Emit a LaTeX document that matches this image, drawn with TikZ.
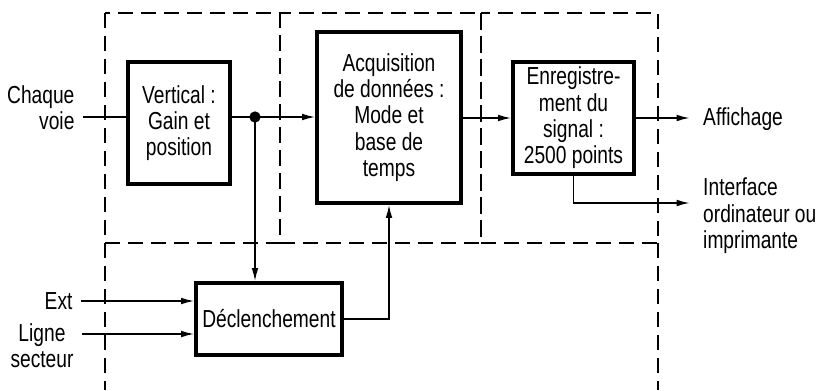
\documentclass[tikz,border=0pt]{standalone}
\usepackage{fontspec}
\setmainfont{Liberation Sans}[FakeStretch=0.78]
\usetikzlibrary{arrows.meta}
\tikzset{
  osc frame/.style={draw=black, line width=1.4pt, dash pattern=on 0.45cm off 0.24cm},
  osc box/.style={draw=black, line width=2.6pt, align=center, inner sep=0pt},
  osc line/.style={draw=black, line width=1.5pt},
  osc arrow/.style={osc line, -{Latex[length=0.4cm,width=0.2cm]}},
  osc label/.style={font=\fontsize{21}{22.5}\selectfont, text=black},
  osc in/.style={osc label, inner xsep=0.25cm, inner ysep=0pt},
  osc out/.style={osc label, inner xsep=0.39cm, inner ysep=0pt},
}

\begin{document}
\begin{tikzpicture}[x=0.03cm,y=-0.03cm]
  \useasboundingbox (0,0) rectangle (817,390);
  \draw[osc frame] (105,13) rectangle (280,243);
  \draw[osc frame] (280,13) rectangle (481,243);
  \draw[osc frame] (481,13) rectangle (658,243);
  \draw[osc frame] (105,243) -- (105,390);
  \draw[osc frame] (658,243) -- (658,390);

  \node[osc box, osc label, minimum width=3.06cm, minimum height=3.66cm] (vert) at (179,123) {Vertical :\\Gain et\\position};
  \node[osc box, osc label, minimum width=4.32cm, minimum height=5.13cm] (acq) at (389,117.5) {Acquisition\\de données :\\Mode et\\base de\\temps};
  \node[osc box, osc label, minimum width=3.63cm, minimum height=3.36cm] (enr) at (573.5,118) {Enregistre-\\ment du\\signal :\\2500 points};
  \node[osc box, osc label, minimum width=4.38cm, minimum height=2.16cm] (decl) at (269,319) {Déclenchement};

  \node[osc in, align=right, anchor=east] (chaque) at (83,108) {Chaque\\voie};
  \node[osc in, anchor=east] (ext) at (81,301) {Ext};
  \node[osc in, align=center, anchor=east] (ligne) at (82,346) {Ligne\\secteur};
  \node[osc out, anchor=west] (affich) at (690,119) {Affichage};
  \node[osc out, align=left, anchor=west] (iface) at (690,216) {Interface\\ordinateur ou\\imprimante};

  \coordinate (split) at (255,117);
  \draw[osc line] (chaque.east |- split) -- (vert.west |- split);
  \draw[osc line] (vert.east |- split) -- (split);
  \fill (split) circle (0.17cm);
  \draw[osc arrow] (split) -- (acq.west |- split);
  \draw[osc arrow] (split) -- (split |- decl.north);
  \draw[osc arrow] (acq.east |- enr) -- (enr.west);
  \draw[osc arrow] (enr.east) -- (affich.west |- enr);
  \draw[osc arrow] (enr.south) |- ([yshift=0.39cm]iface.west);
  \draw[osc arrow] (ext.east) -- (ext -| decl.west);
  \draw[osc arrow] ([yshift=0.36cm]ligne.east) -- ([yshift=0.36cm]ligne.east -| decl.west);
  \draw[osc arrow] (decl.east) -| (acq.south);
\end{tikzpicture}
\end{document}
